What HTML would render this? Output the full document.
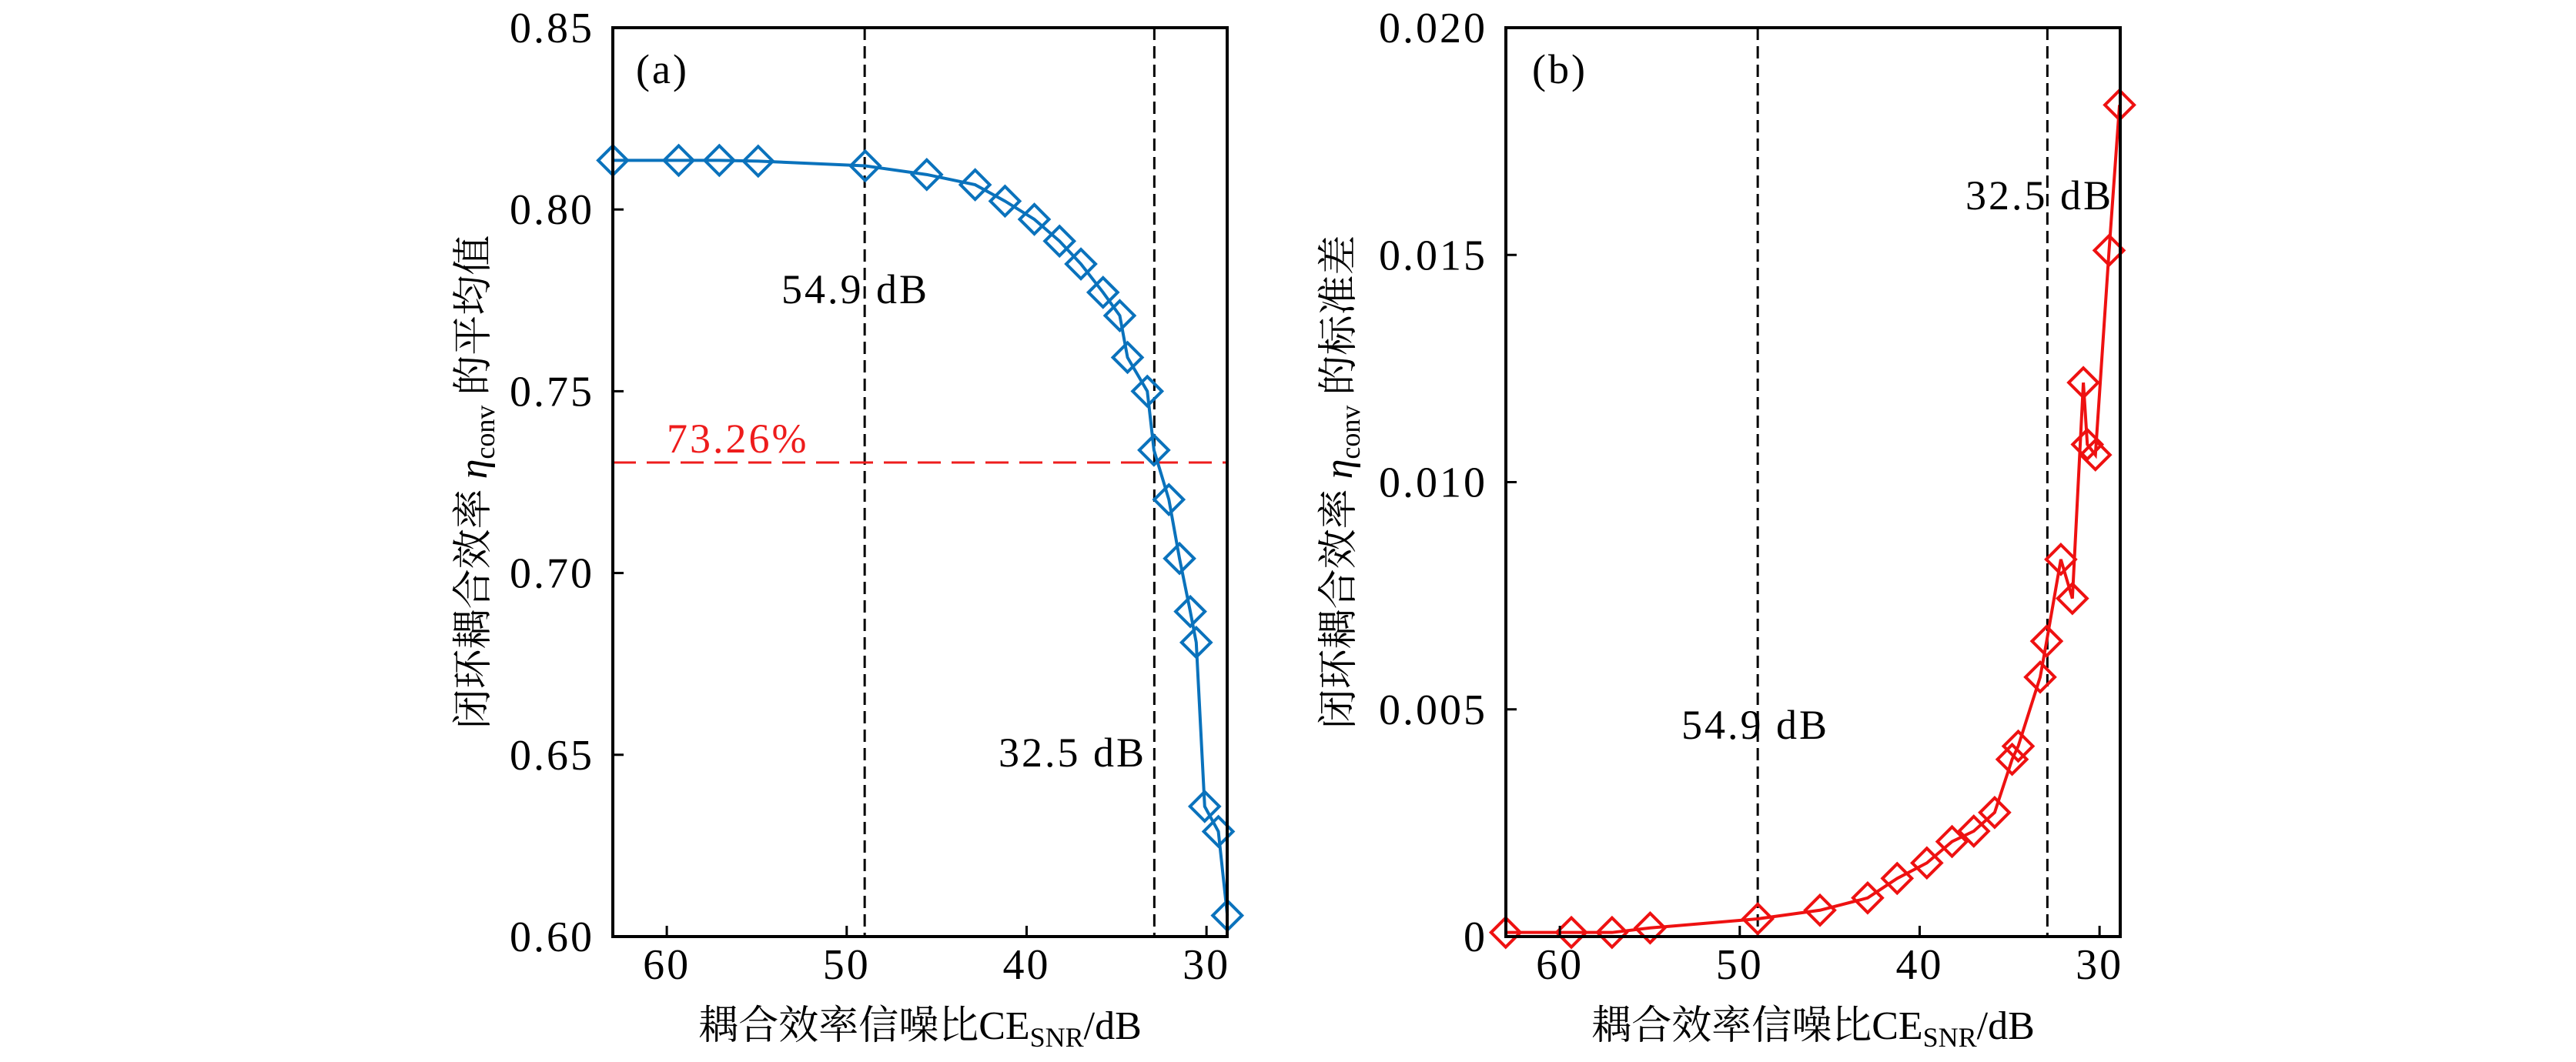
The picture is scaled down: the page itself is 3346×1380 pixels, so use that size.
<!DOCTYPE html>
<html><head><meta charset="utf-8"><style>
html,body{margin:0;padding:0;background:#fff;}
svg{display:block;}
text{font-family:"Liberation Serif","Noto Serif CJK SC",serif;}
</style></head><body>
<svg id="chart" width="3346" height="1380" viewBox="0 0 3346 1380" xmlns="http://www.w3.org/2000/svg"></svg>
<script>
const xTicks=[60,50,40,30];
const xDomain=[63.0,28.85];
const meanX=[63.0,59.34,57.08,54.92,48.97,45.55,42.86,41.2,39.57,38.17,36.98,35.75,34.82,34.39,33.29,32.92,32.09,31.5,30.9,30.57,30.1,29.34,28.84];
const meanY=[0.8135,0.8135,0.8135,0.8133,0.812,0.8096,0.8068,0.8023,0.7973,0.7913,0.785,0.7772,0.7708,0.7593,0.75,0.7338,0.7202,0.704,0.6894,0.6809,0.6358,0.6289,0.6058];
const meanTicks=[0.60,0.65,0.70,0.75,0.80,0.85];
const meanTickLabels=["0.60","0.65","0.70","0.75","0.80","0.85"];
const stdX=[63.01,59.36,57.1,54.98,49.0,45.54,42.89,41.25,39.6,38.2,36.99,35.83,34.86,34.52,33.3,32.94,32.15,31.51,30.9,30.68,30.23,29.47,28.89];
const stdY=[0.00009,0.00009,0.00009,0.00019,0.00039,0.00058,0.00085,0.00128,0.00162,0.00209,0.00232,0.00273,0.0039,0.00419,0.00571,0.0065,0.0083,0.00744,0.01219,0.01083,0.0106,0.0151,0.0183];
const stdTicks=[0,0.005,0.010,0.015,0.020];
const stdTickLabels=["0","0.005","0.010","0.015","0.020"];
const vLines=[49.0,32.9];
const thresholdY=0.7304;

const NS="http://www.w3.org/2000/svg";
const svg=document.getElementById('chart');
function el(tag,attrs,parent){const e=document.createElementNS(NS,tag);for(const k in attrs)e.setAttribute(k,attrs[k]);(parent||svg).appendChild(e);return e;}

function panel(cfg){
  const g=el('g',{});
  
  
  const L=cfg.left,R=cfg.left+798,T=36,B=1217;
  const sx=v=>L+(xDomain[0]-v)/(xDomain[0]-xDomain[1])*(R-L);
  const sy=v=>B-(v-cfg.yDomain[0])/(cfg.yDomain[1]-cfg.yDomain[0])*(B-T);
  vLines.forEach((v,i)=>{
    const l=el('line',{x1:sx(v),x2:sx(v),y1:T,y2:B,stroke:'#000','stroke-width':3,'stroke-dasharray':'16,8'},g);
    
    
  });
  if(cfg.threshold!==undefined){
    const l=el('line',{x1:L,x2:R,y1:sy(cfg.threshold),y2:sy(cfg.threshold),stroke:'#ee1c1c','stroke-width':3,'stroke-dasharray':'30,14'},g);
    
    
  }
  const pts=cfg.xs.map((x,i)=>sx(x)+','+sy(cfg.ys[i])).join(' ');
  const pl=el('polyline',{points:pts,fill:'none',stroke:cfg.color,'stroke-width':4},g);
  
  
  cfg.xs.forEach((x,i)=>{
    const cx=sx(x),cy=sy(cfg.ys[i]),h=19;
    const m=el('polygon',{points:`${cx},${cy-h} ${cx+h},${cy} ${cx},${cy+h} ${cx-h},${cy}`,fill:'none',stroke:cfg.color,'stroke-width':4},g);
    
    
  });
  const fr=el('rect',{x:L,y:T,width:R-L,height:B-T,fill:'none',stroke:'#000','stroke-width':4},g);
  
  
  xTicks.forEach(t=>{
    const x=sx(t);
    const tk=el('line',{x1:x,x2:x,y1:B,y2:B-14,stroke:'#000','stroke-width':3},g);
    
    
    const tl=el('text',{x:x,y:B+55,'font-size':56,'text-anchor':'middle','letter-spacing':3},g);
    tl.textContent=t;
    
    
  });
  cfg.yTicks.forEach((t,i)=>{
    const y=sy(t);
    const tk=el('line',{x1:L,x2:L+14,y1:y,y2:y,stroke:'#000','stroke-width':3},g);
    
    
    const tl=el('text',{x:L-24,y:y+19,'font-size':56,'text-anchor':'end','letter-spacing':3},g);
    tl.textContent=cfg.yLabels[i];
    
    
  });
  const xt=el('text',{x:(L+R)/2,y:1350,'font-size':52,'text-anchor':'middle'},g);
  xt.innerHTML='耦合效率信噪比CE<tspan font-size="36" dy="10">SNR</tspan><tspan dy="-10">/dB</tspan>';
  
  
  const yt=el('text',{x:0,y:0,'font-size':52,'text-anchor':'middle',transform:`translate(${cfg.ytx},${(T+B)/2}) rotate(-90)`},g);
  yt.innerHTML=cfg.ytitle;
  
  
  cfg.notes.forEach(n=>{
    const t=el('text',{x:n[0],y:n[1],'font-size':54,fill:n[3]||'#000','letter-spacing':3},g);
    t.textContent=n[2];
    
    
  });
}
panel({name:'panel-a-mean',left:796,xs:meanX,ys:meanY,yDomain:[0.60,0.85],yTicks:meanTicks,yLabels:meanTickLabels,color:'#0a72bc',threshold:thresholdY,ytx:632,
  ytitle:'闭环耦合效率 <tspan font-style="italic">η</tspan><tspan font-size="36" dy="10">conv</tspan><tspan dy="-10"> 的平均值</tspan>',
  notes:[[826,108,'(a)','#000','panel-label-a'],[1015,394,'54.9 dB','#000','annotation-54-9'],[1297,996,'32.5 dB','#000','annotation-32-5'],[866,588,'73.26%','#ee1c1c','threshold-label']]});
panel({name:'panel-b-std',left:1956,xs:stdX,ys:stdY,yDomain:[0,0.020],yTicks:stdTicks,yLabels:stdTickLabels,color:'#ee1111',ytx:1756,
  ytitle:'闭环耦合效率 <tspan font-style="italic">η</tspan><tspan font-size="36" dy="10">conv</tspan><tspan dy="-10"> 的标准差</tspan>',
  notes:[[1990,108,'(b)','#000','panel-label-b'],[2553,272,'32.5 dB','#000','annotation-32-5'],[2184,960,'54.9 dB','#000','annotation-54-9']]});
</script>
</body></html>
